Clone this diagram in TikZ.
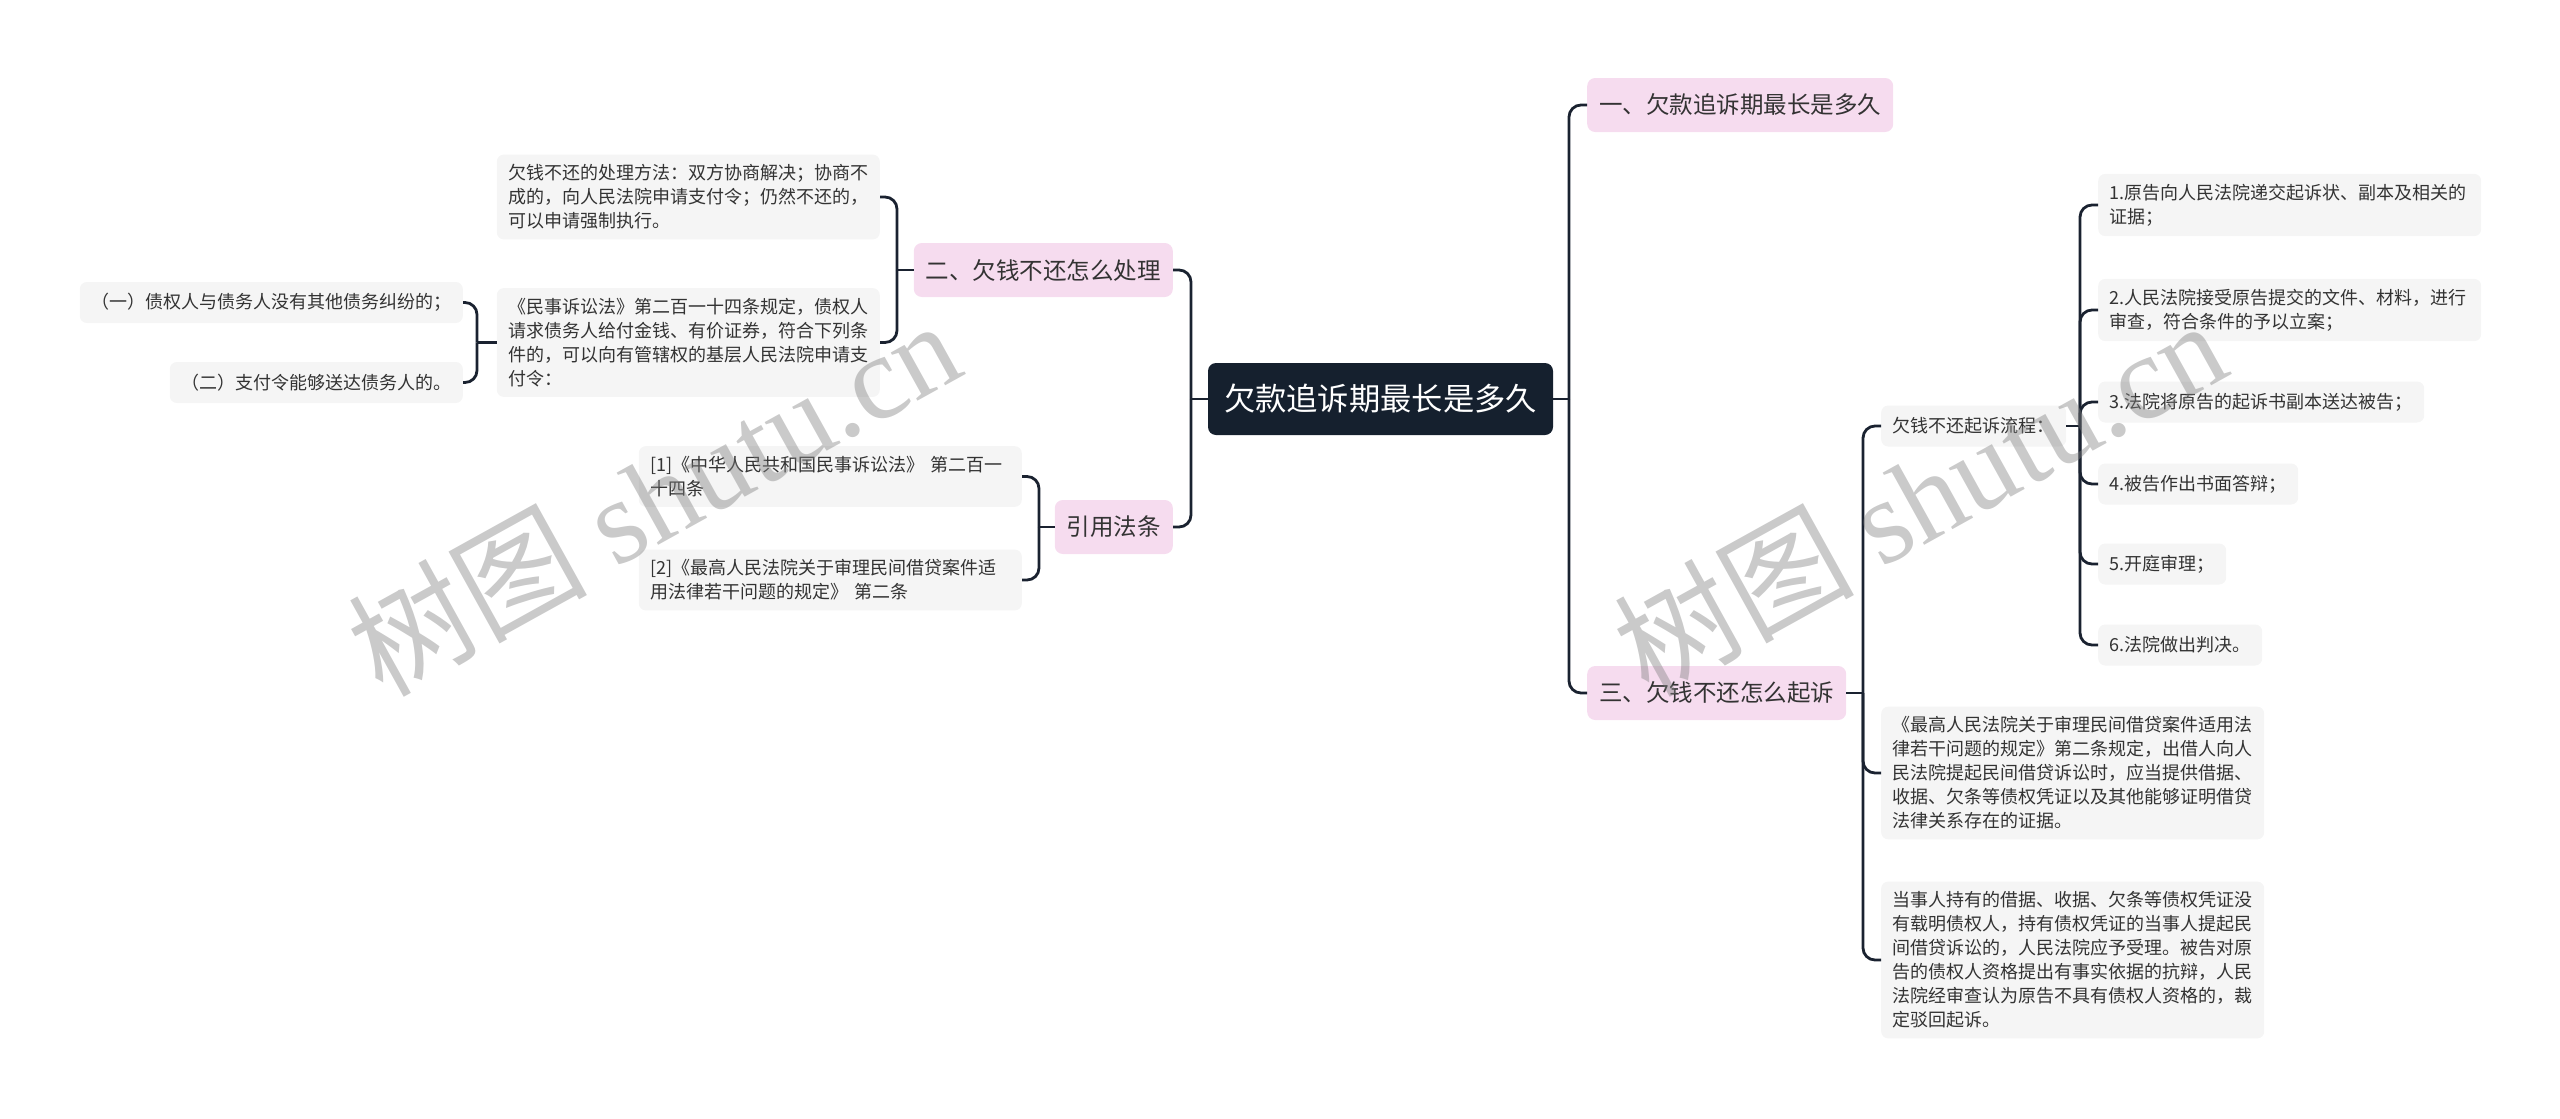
\documentclass[tikz,border=0pt]{standalone}
\usepackage{fontspec}
\setmainfont{Noto Sans CJK SC}
\newfontfamily\wmserif{Liberation Serif}
\usepackage{xcolor}
\usetikzlibrary{positioning}
\definecolor{rootfill}{HTML}{15202E}
\definecolor{topicpink}{HTML}{F6DCEF}
\definecolor{leafgray}{HTML}{F5F5F5}
\definecolor{linedark}{HTML}{1A2230}
\definecolor{textdark}{HTML}{333333}
\tikzset{
  rootbox/.style={fill=rootfill, text=white, rounded corners=8, inner xsep=16, inner ysep=8,
    minimum height=72, font=\fontsize{31.3}{36}\selectfont},
  topicbox/.style={fill=topicpink, text=textdark, rounded corners=8, inner xsep=12, inner ysep=6,
    minimum height=54, font=\fontsize{23.5}{28}\selectfont},
  leafbox/.style={fill=leafgray, text=textdark, rounded corners=7, inner xsep=11.5, inner ysep=10,
    minimum height=41, align=left, font=\fontsize{18}{24}\selectfont},
  wideleaf/.style={leafbox, text width=360},
  conn/.style={draw=linedark, line width=2.8, rounded corners=12},
  wmark/.style={text=gray, opacity=0.42, rotate=29, font=\fontsize{120}{120}\selectfont}
}

\begin{document}
\begin{tikzpicture}[x=1pt, y=-1pt]
  \useasboundingbox (0,0) rectangle (2560,1119);

  % centre and main topics
  \node[rootbox] (root) at (1380.5,399) {欠款追诉期最长是多久};
  \node[topicbox, anchor=west] (t1) at (1587,105) {一、欠款追诉期最长是多久};
  \node[topicbox, anchor=east] (t2) at (1173,270) {二、欠钱不还怎么处理};
  \node[topicbox, anchor=east] (t4) at (1173,527) {引用法条};
  \node[topicbox, anchor=west] (t3) at (1587,693) {三、欠钱不还怎么起诉};

  % left branch: handling
  \node[wideleaf, anchor=east] (way) at (880,197) {欠钱不还的处理方法：双方协商解决；协商不\\成的，向人民法院申请支付令；仍然不还的，\\可以申请强制执行。};
  \node[wideleaf, anchor=east] (law) at (880,342.5) {《民事诉讼法》第二百一十四条规定，债权人\\请求债务人给付金钱、有价证券，符合下列条\\件的，可以向有管辖权的基层人民法院申请支\\付令：};
  \node[leafbox, anchor=east] (cond1) at (463,302.5) {（一）债权人与债务人没有其他债务纠纷的；};
  \node[leafbox, anchor=east] (cond2) at (463,382.5) {（二）支付令能够送达债务人的。};

  % left branch: cited articles
  \node[wideleaf, anchor=east] (ref1) at (1022,476.5) {[1]《中华人民共和国民事诉讼法》 第二百一\\十四条};
  \node[wideleaf, anchor=east] (ref2) at (1022,580) {[2]《最高人民法院关于审理民间借贷案件适\\用法律若干问题的规定》 第二条};

  % right branch: lawsuit
  \node[leafbox, anchor=west] (flow) at (1881,426) {欠钱不还起诉流程：};
  \node[wideleaf, anchor=west] (s1) at (2098,205) {1.原告向人民法院递交起诉状、副本及相关的\\证据；};
  \node[wideleaf, anchor=west] (s2) at (2098,310) {2.人民法院接受原告提交的文件、材料，进行\\审查，符合条件的予以立案；};
  \node[leafbox, anchor=west] (s3) at (2098,402) {3.法院将原告的起诉书副本送达被告；};
  \node[leafbox, anchor=west] (s4) at (2098,484) {4.被告作出书面答辩；};
  \node[leafbox, anchor=west] (s5) at (2098,564) {5.开庭审理；};
  \node[leafbox, anchor=west] (s6) at (2098,645) {6.法院做出判决。};
  \node[wideleaf, anchor=west] (rule1) at (1881,773) {《最高人民法院关于审理民间借贷案件适用法\\律若干问题的规定》第二条规定，出借人向人\\民法院提起民间借贷诉讼时，应当提供借据、\\收据、欠条等债权凭证以及其他能够证明借贷\\法律关系存在的证据。};
  \node[wideleaf, anchor=west] (rule2) at (1881,960) {当事人持有的借据、收据、欠条等债权凭证没\\有载明债权人，持有债权凭证的当事人提起民\\间借贷诉讼的，人民法院应予受理。被告对原\\告的债权人资格提出有事实依据的抗辩，人民\\法院经审查认为原告不具有债权人资格的，裁\\定驳回起诉。};

  % bracket lines
  \coordinate (rbx) at (1569,0);
  \coordinate (lbx) at (1191,0);
  \coordinate (t2x) at (897,0);
  \coordinate (lawx) at (477,0);
  \coordinate (t4x) at (1039,0);
  \coordinate (t3x) at (1863,0);
  \coordinate (flowx) at (2080,0);

  \draw[conn] (root.east) -- (root.east -| rbx);
  \foreach \c in {t1,t3} \draw[conn] (root.east -| rbx) |- (\c.west);
  \draw[conn] (root.west) -- (root.west -| lbx);
  \foreach \c in {t2,t4} \draw[conn] (root.west -| lbx) |- (\c.east);

  \draw[conn] (t2.west) -- (t2.west -| t2x);
  \foreach \c in {way,law} \draw[conn] (t2.west -| t2x) |- (\c.east);
  \draw[conn] (law.west) -- (law.west -| lawx);
  \foreach \c in {cond1,cond2} \draw[conn] (law.west -| lawx) |- (\c.east);
  \draw[conn] (t4.west) -- (t4.west -| t4x);
  \foreach \c in {ref1,ref2} \draw[conn] (t4.west -| t4x) |- (\c.east);

  \draw[conn] (t3.east) -- (t3.east -| t3x);
  \foreach \c in {flow,rule1,rule2} \draw[conn] (t3.east -| t3x) |- (\c.west);
  \draw[conn] (flow.east) -- (flow.east -| flowx);
  \foreach \c in {s1,s2,s3,s4,s5,s6} \draw[conn] (flow.east -| flowx) |- (\c.west);

  % watermark
  \node[wmark] (wm1) at (653,496) {树图 {\wmserif shutu.cn}};
  \node[wmark] (wm2) at (1919,496) {树图 {\wmserif shutu.cn}};
\end{tikzpicture}
\end{document}
